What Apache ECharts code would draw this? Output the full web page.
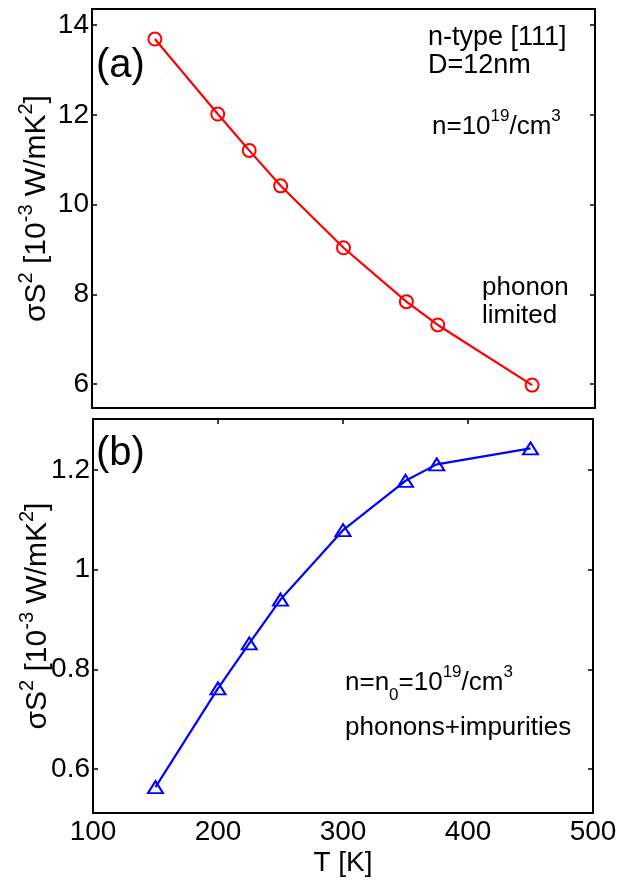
<!DOCTYPE html>
<html><head><meta charset="utf-8">
<script src="https://cdn.jsdelivr.net/npm/echarts@6/dist/echarts.min.js"></script>
<style>html,body{margin:0;padding:0;background:#fff}#c{width:620px;height:882px}</style>
</head><body><div id="c"></div>
<script>
// ---- data ----
const temperatures = [150, 200, 225, 250, 300, 350, 375, 450];
const powerFactorPhonon = [13.69, 12.02, 11.21, 10.42, 9.04, 7.84, 7.32, 5.98];
const powerFactorImpurity = [0.564, 0.762, 0.852, 0.940, 1.079, 1.178, 1.211, 1.243];
const xTicks = [100, 200, 300, 400, 500];
const yTicksA = [6, 8, 10, 12, 14];
const yTicksB = [0.6, 0.8, 1, 1.2];

const FONT = "'Liberation Sans', Arial, sans-serif";
const richStyles = {
  m: { fontSize: 30, fontFamily: FONT, color: '#000', lineHeight: 36, verticalAlign: 'bottom' },
  s: { fontSize: 20, fontFamily: FONT, color: '#000', verticalAlign: 'top', lineHeight: 36 },
  a: { fontSize: 26, fontFamily: FONT, color: '#000', lineHeight: 32, verticalAlign: 'bottom' },
  as: { fontSize: 17, fontFamily: FONT, color: '#000', verticalAlign: 'top', lineHeight: 32 },
  ab: { fontSize: 17, fontFamily: FONT, color: '#000', verticalAlign: 'bottom', lineHeight: 32, padding: [0,0,-8,0] }
};
const yName = '{m|σS}{s|2}{m| [10}{s|-3}{m| W/mK}{s|2}{m|]}';
const lineBlack = { show: true, onZero: false, lineStyle: { color: '#000', width: 2 } };

function xAxisCfg(grid, pos, opts) {
  return Object.assign({
    gridIndex: grid, type: 'value', position: pos, min: xTicks[0], max: xTicks[xTicks.length - 1], interval: 100,
    axisLine: lineBlack, splitLine: { show: false },
    axisTick: { show: false }, axisLabel: { show: false }
  }, opts || {});
}
function yAxisCfg(grid, pos, min, max, ticks, opts) {
  return Object.assign({
    gridIndex: grid, type: 'value', position: pos, min: min, max: max,
    axisLine: lineBlack, splitLine: { show: false },
    axisTick: { show: true, inside: true, length: 5, customValues: ticks, lineStyle: { color: '#000', width: 1.5 } },
    axisLabel: { show: false }
  }, opts || {});
}
const yLabel = ticks => ({ show: true, customValues: ticks, margin: 3, fontSize: 28, fontFamily: FONT, color: '#000' });
const annot = size => size + 'px ' + FONT;

const chart = echarts.init(document.getElementById('c'));
chart.setOption({
  animation: false,
  backgroundColor: '#fff',
  grid: [
    { left: 92, top: 9, width: 503, height: 399, containLabel: false, outerBoundsMode: 'none' },
    { left: 93, top: 419, width: 500, height: 394, containLabel: false, outerBoundsMode: 'none' }
  ],
  xAxis: [
    xAxisCfg(0, 'bottom'),
    xAxisCfg(0, 'top'),
    xAxisCfg(1, 'bottom', {
      axisLabel: { show: true, margin: 5, fontSize: 28, fontFamily: FONT, color: '#000', showMinLabel: true, showMaxLabel: true },
      name: 'T [K]', nameLocation: 'middle', nameGap: 36, nameMoveOverlap: false,
      nameTextStyle: { fontSize: 28, fontFamily: FONT, color: '#000' }
    }),
    xAxisCfg(1, 'top', { axisTick: { show: true, inside: true, length: 5, lineStyle: { color: '#000', width: 1.5 } } })
  ],
  yAxis: [
    yAxisCfg(0, 'left', 5.47, 14.36, yTicksA, {
      axisLabel: yLabel(yTicksA),
      name: yName, nameLocation: 'middle', nameGap: 40, nameRotate: 90, nameMoveOverlap: false,
      nameTextStyle: { rich: richStyles }
    }),
    yAxisCfg(0, 'right', 5.47, 14.36, yTicksA),
    yAxisCfg(1, 'left', 0.512, 1.302, yTicksB, {
      axisLabel: yLabel(yTicksB),
      name: yName, nameLocation: 'middle', nameGap: 40, nameRotate: 90, nameMoveOverlap: false,
      nameTextStyle: { rich: richStyles }
    }),
    yAxisCfg(1, 'right', 0.512, 1.302, yTicksB)
  ],
  series: [
    {
      type: 'line', xAxisIndex: 0, yAxisIndex: 0,
      data: temperatures.map((t, i) => [t, powerFactorPhonon[i]]),
      symbol: 'circle', symbolSize: 13,
      lineStyle: { color: '#ff0000', width: 2.2 },
      itemStyle: { color: 'rgba(0,0,0,0)', borderColor: '#ff0000', borderWidth: 2 }
    },
    {
      type: 'line', xAxisIndex: 2, yAxisIndex: 2,
      data: temperatures.map((t, i) => [t, powerFactorImpurity[i]]),
      symbol: 'triangle', symbolSize: [15, 12],
      lineStyle: { color: '#0000ff', width: 2.2 },
      itemStyle: { color: 'rgba(0,0,0,0)', borderColor: '#0000ff', borderWidth: 2 }
    }
  ],
  graphic: [
    { type: 'text', left: 96, top: 46, style: { text: '(a)', font: annot(40), fill: '#000' } },
    { type: 'text', left: 96, top: 434, style: { text: '(b)', font: annot(40), fill: '#000' } },
    { type: 'text', left: 428, top: 24, style: { text: 'n-type [111]', font: annot(27), fill: '#000' } },
    { type: 'text', left: 428, top: 52, style: { text: 'D=12nm', font: annot(27), fill: '#000' } },
    { type: 'text', left: 432, top: 108, style: { text: '{a|n=10}{as|19}{a|/cm}{as|3}', rich: richStyles } },
    { type: 'text', left: 482, top: 275, style: { text: 'phonon', font: annot(26), fill: '#000' } },
    { type: 'text', left: 482, top: 303, style: { text: 'limited', font: annot(26), fill: '#000' } },
    { type: 'text', left: 345, top: 664, style: { text: '{a|n=n}{ab|0}{a|=10}{as|19}{a|/cm}{as|3}', rich: richStyles } },
    { type: 'text', left: 345, top: 715, style: { text: 'phonons+impurities', font: annot(26), fill: '#000' } }
  ]
});
</script>
</body></html>
